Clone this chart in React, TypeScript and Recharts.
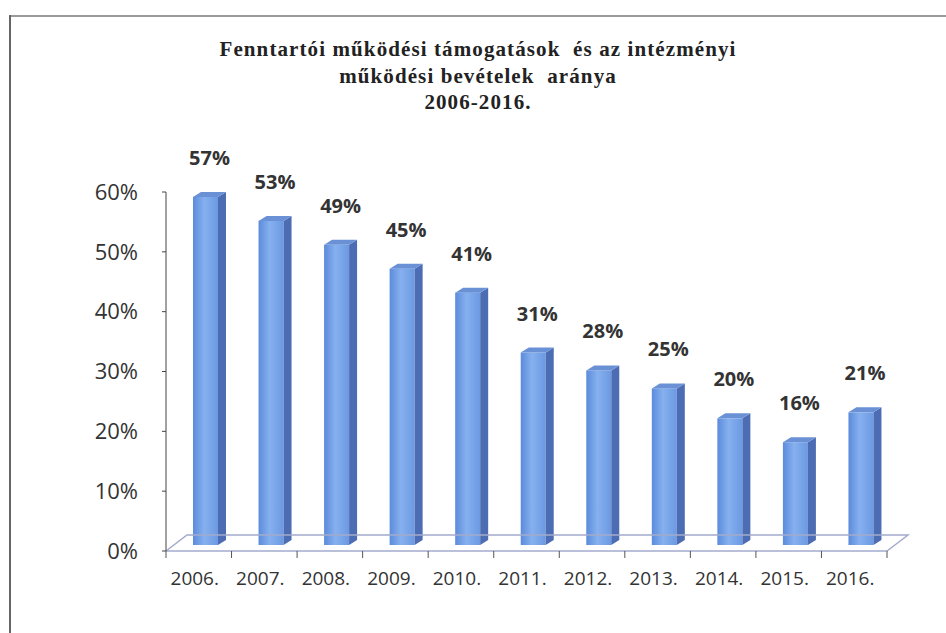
import React from 'react';
import { BarChart, Bar, XAxis, YAxis, LabelList, ReferenceLine } from 'recharts';

const years = ['2006.', '2007.', '2008.', '2009.', '2010.', '2011.', '2012.', '2013.', '2014.', '2015.', '2016.'];
const shares = [57, 53, 49, 45, 41, 31, 28, 25, 20, 16, 21];
const yTicks = [0, 10, 20, 30, 40, 50, 60];
const titleLines = [
  'Fenntartói működési támogatások  és az intézményi',
  'működési bevételek  aránya',
  '2006-2016.',
];

const data = years.map((year, i) => ({ year, share: shares[i] }));

// 3D look
const SHIFT = 7;
const DEPTH_X = 8;
const DEPTH_Y = 5;

const Bar3D = (props: any) => {
  const { x, y, width, height } = props;
  const left = x + SHIFT;
  const right = left + width;
  const top = y - 13;
  const bottom = y + height - 6;
  return (
    <g>
      <rect x={left} y={top} width={width} height={bottom - top} fill="url(#barFront)" />
      <polygon
        points={`${right},${top} ${right + DEPTH_X},${top - DEPTH_Y} ${right + DEPTH_X},${bottom - DEPTH_Y} ${right},${bottom}`}
        fill="#4c6db3"
      />
      <polygon
        points={`${left},${top} ${left + DEPTH_X},${top - DEPTH_Y} ${right + DEPTH_X},${top - DEPTH_Y} ${right},${top}`}
        fill="#6a91d6"
      />
    </g>
  );
};

const ValueLabel = (props: any) => {
  const { x, y, width, value } = props;
  return (
    <text
      x={x + SHIFT + width / 2 + 4}
      y={y - 45}
      textAnchor="middle"
      fontFamily="'Open Sans', sans-serif"
      fontWeight="bold"
      fontSize={20}
      fill="#333"
    >
      {value}%
    </text>
  );
};

const YearTick = (props: any) => {
  const { x, y, payload } = props;
  const half = payload.offset || 32.8;
  const axisY = y - 15;
  const isLast = payload.value === years[years.length - 1];
  return (
    <g>
      <line x1={x - half} y1={axisY} x2={x - half} y2={axisY + 7} stroke="#555" />
      {isLast && <line x1={x + half} y1={axisY} x2={x + half} y2={axisY + 7} stroke="#555" />}
      <text x={x - 4} y={y + 19} textAnchor="middle" fontFamily="'Open Sans', sans-serif" fontSize={19} fill="#333">
        {payload.value}
      </text>
    </g>
  );
};

const Floor = (props: any) => {
  const { x1, y1, x2, y2 } = props;
  return (
    <path
      d={`M${x1},${y1} L${x1 + 21},${y1 - 16} L${x2 + 21},${y2 - 16} L${x2},${y2}`}
      fill="none"
      stroke="#a3abcc"
      strokeWidth={1.5}
    />
  );
};

export default function App() {
  return (
    <div style={{ position: 'absolute', left: 0, top: 0, width: 946, height: 633, overflow: 'hidden', background: '#fff' }}>
      <div style={{ position: 'absolute', left: 9, top: 15, width: 937, height: 2, background: '#9a9a9a' }} />
      <div style={{ position: 'absolute', left: 9, top: 15, width: 2, height: 618, background: '#666' }} />
      <div
        style={{
          position: 'absolute',
          left: 10,
          top: 36,
          width: 936,
          textAlign: 'center',
          fontFamily: "'Liberation Serif', serif",
          fontWeight: 'bold',
          fontSize: 21,
          letterSpacing: 1.1,
          lineHeight: '26.5px',
          color: '#222',
          whiteSpace: 'pre',
        }}
      >
        {titleLines.map((line) => (
          <div key={line}>{line}</div>
        ))}
      </div>
      <div style={{ position: 'absolute', left: 0, top: 0 }}>
        <BarChart width={946} height={633} data={data} margin={{ top: 192, right: 59, left: 0, bottom: 0 }} barSize={25}>
          <defs>
            <linearGradient id="barFront" x1="0" y1="0" x2="1" y2="0">
              <stop offset="0%" stopColor="#5b8bdb" />
              <stop offset="45%" stopColor="#86b0ef" />
              <stop offset="100%" stopColor="#6b99e2" />
            </linearGradient>
          </defs>
          <ReferenceLine y={0} shape={Floor} />
          <XAxis
            dataKey="year"
            height={82}
            axisLine={{ stroke: '#a3abcc', strokeWidth: 1.5 }}
            tickLine={false}
            tickSize={7}
            tickMargin={8}
            interval={0}
            tick={YearTick}
          />
          <YAxis
            width={166}
            domain={[0, 60]}
            ticks={yTicks}
            tickFormatter={(v) => `${v}%`}
            axisLine={{ stroke: '#444' }}
            tickLine={{ stroke: '#444' }}
            tickSize={4}
            tickMargin={24}
            tick={{ fontFamily: "'Open Sans', sans-serif", fontSize: 22, fill: '#333' }}
          />
          <Bar dataKey="share" shape={Bar3D} isAnimationActive={false}>
            <LabelList dataKey="share" content={ValueLabel} />
          </Bar>
        </BarChart>
      </div>
    </div>
  );
}
